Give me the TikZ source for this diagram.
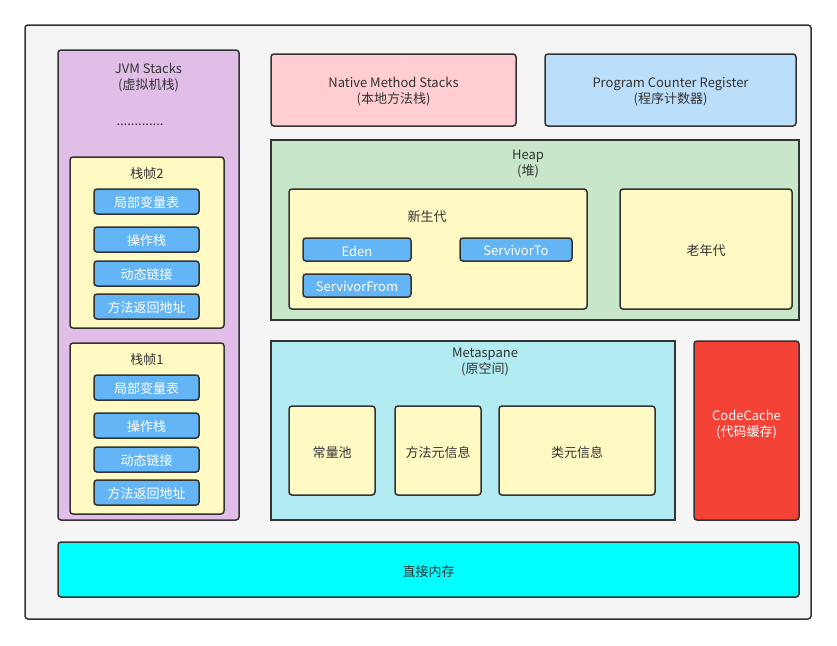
\documentclass[tikz,border=0pt]{standalone}
\usepackage{fontspec}
\setmainfont{Noto Sans CJK SC}

\definecolor{linegray}{HTML}{333333}
\definecolor{textgray}{HTML}{333333}
\definecolor{bggray}{HTML}{F5F5F5}
\definecolor{stackpurple}{HTML}{E1BEE7}
\definecolor{paleyellow}{HTML}{FFF9C4}
\definecolor{slotblue}{HTML}{64B5F6}
\definecolor{nativepink}{HTML}{FFCDD2}
\definecolor{pcblue}{HTML}{BBDEFB}
\definecolor{heapgreen}{HTML}{C8E6C9}
\definecolor{metacyan}{HTML}{B2EBF2}
\definecolor{codered}{HTML}{F44336}
\definecolor{directcyan}{HTML}{00FFFF}

\tikzset{
  box/.style={draw=linegray, line width=1.5pt, rounded corners=3pt},
  flatbox/.style={draw=linegray, line width=1.5pt},
  lbl/.style={text=textgray, font=\fontsize{13}{16}\selectfont, align=center, inner sep=0pt, yshift=-1.5pt},
  wlbl/.style={lbl, text=white},
}

\begin{document}
\begin{tikzpicture}[x=1pt,y=-1pt]

\useasboundingbox (0,0) rectangle (837,645);
\fill[white] (0,0) rectangle (837,645);

% outer frame
\draw[box, fill=bggray] (25,25) rectangle (811,619);

% JVM stacks
\draw[box, fill=stackpurple] (58,50) rectangle (239,520);
\node[lbl] (jvm) at (148.5,76) {JVM Stacks\\(虚拟机栈)};
\node[lbl] (dots) at (140,123) {.............};

\foreach \top/\n in {157/2, 343/1} {
  \draw[box, fill=paleyellow] (70,\top) rectangle (224,\top+171);
  \node[lbl] (frame\n) at (147,\top+15) {栈帧\n};
  \foreach \dy/\i/\txt in {32/1/局部变量表, 70/2/操作栈, 104/3/动态链接, 137/4/方法返回地址} {
    \draw[box, fill=slotblue] (94,\top+\dy) rectangle (199,\top+\dy+25);
    \node[wlbl] (frame\n-\i) at (146.5,\top+\dy+12.5) {\txt};
  }
}

% native method stacks and pc register
\draw[box, fill=nativepink] (271,54) rectangle (516,126);
\node[lbl] (native) at (393.5,90) {Native Method Stacks\\(本地方法栈)};
\draw[box, fill=pcblue] (545,54) rectangle (796,126);
\node[lbl] (pc) at (670.5,90) {Program Counter Register\\(程序计数器)};

% heap
\draw[flatbox, fill=heapgreen] (271,140) rectangle (799,320);
\node[lbl] (heap) at (528,163) {Heap\\(堆)};
\draw[box, fill=paleyellow] (289,189) rectangle (587,309);
\node[lbl] (young) at (427,215) {新生代};
\draw[box, fill=slotblue] (303,238) rectangle (411,261);
\node[wlbl] (eden) at (357,249.5) {Eden};
\draw[box, fill=slotblue] (460,238) rectangle (572,261);
\node[wlbl] (to) at (516,249.5) {ServivorTo};
\draw[box, fill=slotblue] (303,274) rectangle (411,297);
\node[wlbl] (from) at (357,285.5) {ServivorFrom};
\draw[box, fill=paleyellow] (620,189) rectangle (792,309);
\node[lbl] (old) at (706,249) {老年代};

% metaspace
\draw[flatbox, fill=metacyan] (271,341) rectangle (675,520);
\node[lbl] (meta) at (485,361) {Metaspane\\(原空间)};
\draw[box, fill=paleyellow] (289,406) rectangle (375,495);
\node[lbl] (pool) at (332,451) {常量池};
\draw[box, fill=paleyellow] (395,406) rectangle (481,495);
\node[lbl] (method) at (438,451) {方法元信息};
\draw[box, fill=paleyellow] (499,406) rectangle (655,495);
\node[lbl] (klass) at (577,451) {类元信息};

% code cache
\draw[box, fill=codered] (694,341) rectangle (799,520);
\node[wlbl] (code) at (746.5,423) {CodeCache\\(代码缓存)};

% direct memory
\draw[box, fill=directcyan] (58,542) rectangle (799,597);
\node[lbl] (direct) at (428.5,570) {直接内存};

\end{tikzpicture}
\end{document}
